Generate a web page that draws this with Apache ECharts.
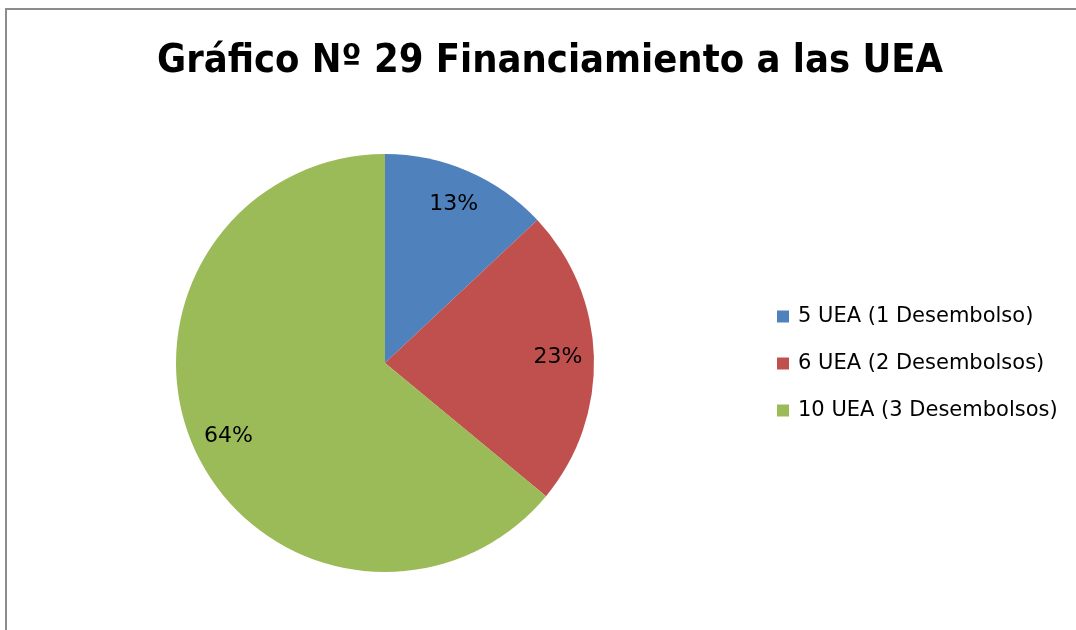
<!DOCTYPE html>
<html>
<head>
<meta charset="utf-8">
<script src="https://cdn.jsdelivr.net/npm/echarts@6/dist/echarts.min.js"></script>
<style>
  html, body { margin: 0; padding: 0; background: #fff; }
  #chart { width: 1076px; height: 630px; }
</style>
</head>
<body>
<div id="chart"></div>
<script>
// Datos del gráfico
const categories = ['5 UEA (1 Desembolso)', '6 UEA (2 Desembolsos)', '10 UEA (3 Desembolsos)']
const shares = [13, 23, 64]
const colors = ['#4F81BD', '#C0504D', '#9BBB59']

const chart = echarts.init(document.getElementById('chart'))
const data = categories.map((name, i) => ({ name, value: shares[i], itemStyle: { color: colors[i] } }))

const option = {
  backgroundColor: '#ffffff',
  animation: false,
  title: {
    text: 'Gráfico Nº 29 Financiamiento a las UEA',
    left: 157,
    top: 42,
    padding: 0,
    textStyle: {
      fontFamily: 'DejaVu Sans Condensed, DejaVu Sans',
      fontWeight: 'bold',
      fontSize: 39.5,
      color: '#000'
    }
  },
  legend: {
    orient: 'vertical',
    left: 777,
    top: 306,
    padding: 0,
    itemWidth: 12,
    itemHeight: 12,
    itemGap: 26,
    icon: 'rect',
    data: categories,
    textStyle: {
      fontFamily: 'DejaVu Sans',
      fontSize: 21,
      color: '#000',
      padding: [0, 0, 0, 4]
    }
  },
  graphic: [
    {
      type: 'rect',
      shape: { x: 6, y: 9, width: 1200, height: 800 },
      style: { fill: 'none', stroke: '#8c8c8c', lineWidth: 2 },
      silent: true
    }
  ],
  series: [
    {
      name: 'Financiamiento',
      type: 'pie',
      center: [385, 363],
      radius: [0, 209],
      startAngle: 90,
      clockwise: true,
      label: { show: false },
      labelLine: { show: false },
      itemStyle: { borderWidth: 0 },
      data: data
    },
    {
      // capa transparente solo para colocar las etiquetas cerca del borde
      name: 'Etiquetas',
      type: 'pie',
      center: [385, 363],
      radius: [131, 209],
      startAngle: 90,
      clockwise: true,
      silent: true,
      itemStyle: { color: 'transparent', borderWidth: 0 },
      label: {
        show: true,
        position: 'inside',
        formatter: '{c}%',
        fontFamily: 'DejaVu Sans',
        fontSize: 22,
        color: '#000'
      },
      labelLine: { show: false },
      data: categories.map((name, i) => ({ name, value: shares[i] }))
    }
  ]
}

chart.setOption(option)
</script>
</body>
</html>
